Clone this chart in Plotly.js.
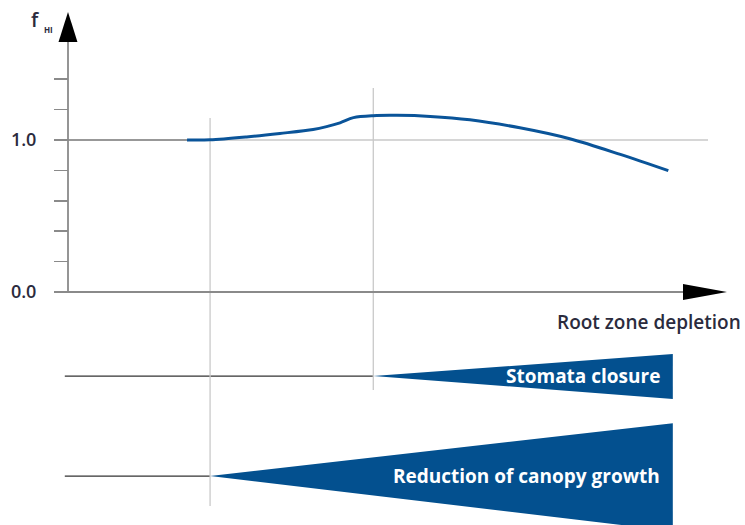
<!DOCTYPE html>
<html>
<head>
<meta charset="utf-8">
<script src="https://cdn.plot.ly/plotly-3.0.1.min.js"></script>
<style>html,body{margin:0;padding:0;background:#fff;}#chart{width:745px;height:525px;}</style>
</head>
<body>
<div id="chart"></div>
<script>
// Harvest index adjustment f_HI versus root zone depletion (relative units)
const depletion = [0.186, 0.222, 0.279, 0.331, 0.383, 0.404, 0.425, 0.446, 0.477, 0.514, 0.566, 0.628, 0.706, 0.784, 0.863, 0.938];
const fHI       = [1.000, 1.001, 1.020, 1.043, 1.069, 1.088, 1.113, 1.147, 1.160, 1.162, 1.155, 1.133, 1.080, 1.008, 0.905, 0.798];

// thresholds (root zone depletion) where the processes start
const processNames = ["Stomata closure", "Reduction of canopy growth"];
const processStart = [0.477, 0.222];
const processEnd   = [0.945, 0.945];
// vertical band (in chart y units) used to draw each wedge
const wedgeCenter  = [-0.553, -1.211];
const wedgeHalf    = [0.148, 0.355];

const yTickVals  = [0, 0.2, 0.4, 0.6, 0.8, 1.0, 1.2, 1.4];
const yLabelVals = [0, 1.0];
const yLabelText = ["0.0", "1.0"];

const xMin = -0.10625, xMax = 1.05781;
const yMin = -1.5329, yMax = 1.921;

const blue = "#03508f";
const grey = "#c9c9c9";
const axisGrey = "#8a8a8a";
const ink = "#2b2b3d";

const traces = [];
// wedges
processNames.forEach((n, i) => {
  traces.push({
    x: [processStart[i], processEnd[i], processEnd[i], processStart[i]],
    y: [wedgeCenter[i], wedgeCenter[i] + wedgeHalf[i] * 0.98, wedgeCenter[i] - wedgeHalf[i] * 1.02, wedgeCenter[i]],
    mode: "lines", fill: "toself", fillcolor: blue, line: {width: 0, color: blue},
    hoverinfo: "skip", showlegend: false
  });
  traces.push({
    x: [-0.005, processStart[i]], y: [wedgeCenter[i], wedgeCenter[i]],
    mode: "lines", line: {color: "#333", width: 1.2}, hoverinfo: "skip", showlegend: false
  });
});
// reference 1.0 line
traces.push({x: [0, depletion[0]], y: [1, 1], mode: "lines", line: {color: "#333", width: 1.2}, showlegend: false});
traces.push({x: [depletion[0], 1.0], y: [1, 1], mode: "lines", line: {color: grey, width: 1.3}, showlegend: false});
// vertical threshold lines
traces.push({x: [processStart[1], processStart[1]], y: [1.145, -1.408], mode: "lines", line: {color: grey, width: 1.3}, showlegend: false});
traces.push({x: [processStart[0], processStart[0]], y: [1.342, -0.645], mode: "lines", line: {color: grey, width: 1.3}, showlegend: false});
// the curve
traces.push({x: depletion, y: fHI, mode: "lines", line: {color: "#0a5499", width: 3, shape: "spline", smoothing: 0.9}, showlegend: false});
// dummy trace to activate the label axis
traces.push({x: [0], y: [0], yaxis: "y2", mode: "markers", marker: {size: 0, opacity: 0}, hoverinfo: "skip", showlegend: false});

const shapes = [
  // axis lines
  {type: "line", xref: "x", yref: "y", x0: 0, x1: 0, y0: 0, y1: 1.66, line: {color: axisGrey, width: 1.8}},
  {type: "line", xref: "x", yref: "y", x0: 0, x1: 0.963, y0: 0, y1: 0, line: {color: axisGrey, width: 1.8}},
  // arrow heads
  {type: "path", xref: "x", yref: "y", path: "M -0.0148 1.645 L 0.0148 1.645 L 0 1.842 Z", fillcolor: "#000", line: {width: 0}},
  {type: "path", xref: "x", yref: "y", path: "M 0.9609 0.0526 L 0.9609 -0.0526 L 1.0297 0 Z", fillcolor: "#000", line: {width: 0}}
];

const annotations = [
  {x: 1.054, y: -0.195, xref: "x", yref: "y", xanchor: "right", yanchor: "middle", showarrow: false,
   text: "Root zone depletion", font: {family: "Open Sans", size: 19, color: ink, weight: 600}},
  {x: -0.051, y: 1.79, xref: "x", yref: "y", xanchor: "center", yanchor: "middle", showarrow: false,
   text: "f", font: {family: "Open Sans", size: 20, color: ink, weight: 600}},
  {x: -0.041, y: 1.725, xref: "x", yref: "y", xanchor: "left", yanchor: "middle", showarrow: false,
   text: "HI", font: {family: "Open Sans", size: 8, color: ink, weight: 700}},
  {x: 0.928, y: wedgeCenter[0], xref: "x", yref: "y", xanchor: "right", yanchor: "middle", showarrow: false,
   text: processNames[0], font: {family: "Open Sans", size: 19, color: "#fff", weight: 700}},
  {x: 0.928, y: wedgeCenter[1], xref: "x", yref: "y", xanchor: "right", yanchor: "middle", showarrow: false,
   text: processNames[1], font: {family: "Open Sans", size: 19, color: "#fff", weight: 700}}
];

const layout = {
  width: 745, height: 525,
  margin: {l: 0, r: 0, t: 0, b: 0},
  paper_bgcolor: "#fff", plot_bgcolor: "#fff",
  showlegend: false,
  xaxis: {range: [xMin, xMax], visible: false, fixedrange: true},
  yaxis: {range: [yMin, yMax], anchor: "free", position: 68 / 745, side: "left",
          showgrid: false, zeroline: false, showline: false,
          tickmode: "array", tickvals: yTickVals, showticklabels: false,
          ticks: "outside", ticklen: 14, tickwidth: 1.5, tickcolor: axisGrey, fixedrange: true},
  yaxis2: {range: [yMin, yMax], overlaying: "y", anchor: "free", position: 68 / 745, side: "left",
          showgrid: false, zeroline: false, showline: false,
          tickmode: "array", tickvals: yLabelVals, ticktext: yLabelText,
          ticks: "outside", ticklen: 14, tickwidth: 0, tickcolor: "rgba(0,0,0,0)",
          ticklabelstandoff: 14,
          tickfont: {family: "Open Sans", size: 18, color: ink, weight: 600}, fixedrange: true},
  shapes: shapes,
  annotations: annotations
};

Plotly.newPlot("chart", traces, layout, {staticPlot: true, displayModeBar: false});
</script>
</body>
</html>
